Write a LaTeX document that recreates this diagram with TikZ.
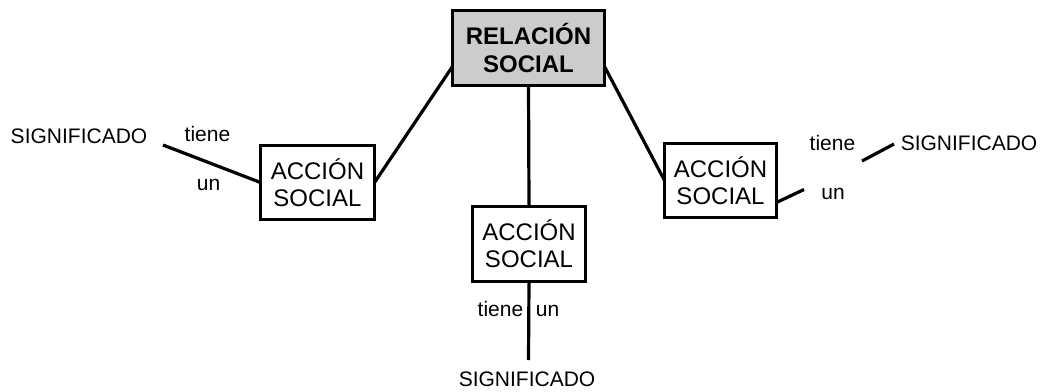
\documentclass[tikz,border=0pt]{standalone}
\usepackage{fontspec}
\setmainfont{Liberation Sans}
\definecolor{boxgray}{RGB}{204,204,204}
\tikzset{
  conbox/.style={draw=black, line width=3pt, fill=white, align=center, inner sep=0pt, outer sep=0pt,
    font=\fontsize{24}{27}\selectfont},
  mainbox/.style={conbox, fill=boxgray, font=\bfseries\fontsize{24}{28.5}\selectfont},
  lbl/.style={anchor=base, inner sep=0pt, font=\fontsize{21}{25}\selectfont},
  link/.style={line width=3.2pt, line cap=butt}
}
\begin{document}
\begin{tikzpicture}[x=1pt,y=-1pt]
\useasboundingbox (0,0) rectangle (1040,391);
% boxes
\node[mainbox, minimum width=152pt, minimum height=75pt] (top) at (528.5,48) {RELACIÓN\\SOCIAL};
\node[conbox, minimum width=114pt, minimum height=74pt] (lbox) at (317.5,182.5) {ACCIÓN\\SOCIAL};
\node[conbox, minimum width=112pt, minimum height=74pt] (rbox) at (720.5,180.5) {ACCIÓN\\SOCIAL};
\node[conbox, minimum width=113pt, minimum height=75pt] (cbox) at (529,244) {ACCIÓN\\SOCIAL};
% labels
\node[lbl] (lsig) at (79,143.3) {SIGNIFICADO};
\node[lbl] (ltiene) at (207.5,141.7) {tiene};
\node[lbl] (lun) at (208.5,190.7) {un};
\node[lbl] (rsig) at (969,150) {SIGNIFICADO};
\node[lbl] (rtiene) at (832.5,150) {tiene};
\node[lbl] (run) at (833,199) {un};
\node[lbl] (ctiene) at (500.5,316.7) {tiene};
\node[lbl] (cun) at (547.5,316.7) {un};
\node[lbl] (csig) at (527,386.7) {SIGNIFICADO};
% free ends
\coordinate (la) at (163,145);
\coordinate (ra1) at (804,189.5);
\coordinate (rb1) at (862,161);
\coordinate (rb2) at (894,144);
\coordinate (cend) at (528.5,360);
% connectors
\draw[link] ([yshift=19pt]top.south west) -- (lbox.east);
\draw[link] ([yshift=19pt]top.south east) -- (rbox.west);
\draw[link] (top.south) -- (cbox.north);
\draw[link] (la) -- (lbox.west);
\draw[link] ([yshift=-22pt]rbox.east) -- (ra1);
\draw[link] (rb1) -- (rb2);
\draw[link] (cbox.south) -- (cend);
\end{tikzpicture}
\end{document}
